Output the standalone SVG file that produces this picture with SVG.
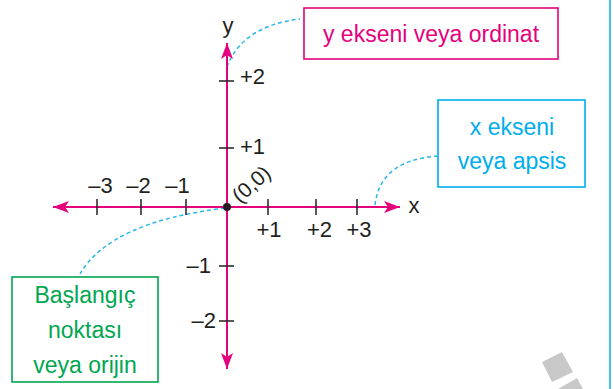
<svg xmlns="http://www.w3.org/2000/svg" width="614" height="389" viewBox="0 0 614 389">
<style>
text{font-family:"Liberation Sans",Arial,sans-serif}
.lbl{font-size:22px;fill:#231f20}
.axis{stroke:#e5007d;stroke-width:2;fill:none}
.tick{stroke:#231f20;stroke-width:1.5}
.dash{stroke:#29b6e8;stroke-width:1.5;fill:none;stroke-dasharray:4 3}
.box{fill:#fff;stroke-width:1.6}
</style>
<defs>
<marker id="ah" markerUnits="userSpaceOnUse" markerWidth="18" markerHeight="14" refX="16" refY="6" orient="auto-start-reverse" viewBox="0 0 18 14">
<path d="M16,6 L0,0 L4,6 L0,12 Z" fill="#e5007d"/>
</marker>
</defs>
<rect width="614" height="389" fill="#fff"/>
<line x1="610" y1="0" x2="610" y2="389" stroke="#00aeef" stroke-width="1.5"/>
<polygon points="542,362 562,352 573,372 552,382" fill="#c8c8c8"/>
<polygon points="558,389 577,378 583,389" fill="#c8c8c8"/>
<g id="connectors">
<path class="dash" d="M227,67 Q242,26 300,19"/>
<path class="dash" d="M375,205 Q380,160 438,156"/>
<path class="dash" d="M225,208 Q110,222 80,274"/>
</g>
<g id="axes">
<line class="axis" x1="53" y1="207" x2="400" y2="207" marker-start="url(#ah)" marker-end="url(#ah)"/>
<line class="axis" x1="227" y1="369" x2="227" y2="43" marker-start="url(#ah)" marker-end="url(#ah)"/>
<g class="tick">
<line x1="97" y1="199" x2="97" y2="215"/>
<line x1="141" y1="199" x2="141" y2="215"/>
<line x1="186" y1="199" x2="186" y2="215"/>
<line x1="268" y1="199" x2="268" y2="215"/>
<line x1="316" y1="199" x2="316" y2="215"/>
<line x1="357" y1="199" x2="357" y2="215"/>
<line x1="219" y1="81" x2="234" y2="81"/>
<line x1="219" y1="148" x2="234" y2="148"/>
<line x1="219" y1="266" x2="234" y2="266"/>
<line x1="219" y1="321" x2="234" y2="321"/>
</g>
<circle cx="227" cy="207" r="4" fill="#231f20"/>
<text class="lbl" x="100.5" y="193" text-anchor="middle">–3</text>
<text class="lbl" x="138.5" y="193" text-anchor="middle">–2</text>
<text class="lbl" x="177.5" y="193" text-anchor="middle">–1</text>
<text class="lbl" x="269" y="237" text-anchor="middle">+1</text>
<text class="lbl" x="319.5" y="237" text-anchor="middle">+2</text>
<text class="lbl" x="359" y="237" text-anchor="middle">+3</text>
<text class="lbl" x="414" y="213" text-anchor="middle">x</text>
<text class="lbl" x="228" y="33" text-anchor="middle">y</text>
<text class="lbl" x="240" y="84">+2</text>
<text class="lbl" x="240" y="154">+1</text>
<text class="lbl" x="211" y="273" text-anchor="end">–1</text>
<text class="lbl" x="216" y="328" text-anchor="end">–2</text>
<text x="240" y="204" font-size="21" fill="#231f20" transform="rotate(-42 240 204)">(0,0)</text>
</g>
<g id="ordinat">
<rect class="box" x="304" y="8" width="254" height="51" stroke="#e5007d"/>
<text x="431" y="42" text-anchor="middle" font-size="23" fill="#e5007d">y ekseni veya ordinat</text>
</g>
<g id="apsis">
<rect class="box" x="438" y="100" width="147" height="87" stroke="#00aeef"/>
<text x="512" y="135" text-anchor="middle" font-size="23" fill="#00aeef">x ekseni</text>
<text x="512" y="169" text-anchor="middle" font-size="23" fill="#00aeef">veya apsis</text>
</g>
<g id="orijin">
<rect class="box" x="12" y="277" width="146" height="105" stroke="#00a651"/>
<text x="85" y="303" text-anchor="middle" font-size="23" fill="#00a651">Başlangıç</text>
<text x="85" y="338" text-anchor="middle" font-size="23" fill="#00a651">noktası</text>
<text x="85" y="373" text-anchor="middle" font-size="23" fill="#00a651">veya orijin</text>
</g>
</svg>
